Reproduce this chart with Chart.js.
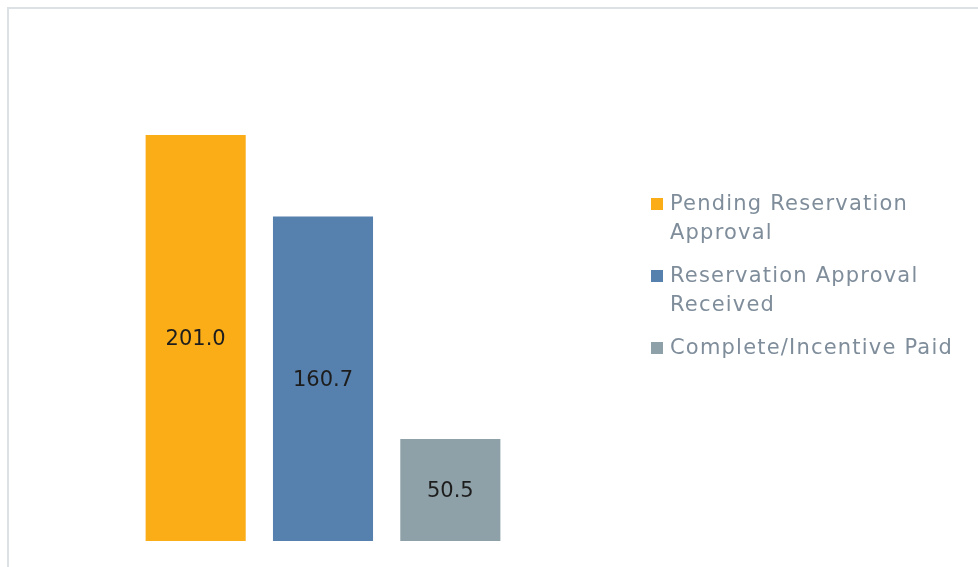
<!DOCTYPE html>
<html>
<head>
<meta charset="utf-8">
<script src="https://cdn.jsdelivr.net/npm/chart.js@4.4.1/dist/chart.umd.min.js"></script>
<style>
    html, body { margin: 0; padding: 0; background: #fff; }
    #wrap { position: relative; width: 978px; height: 567px; overflow: hidden; }
    #frame { position: absolute; left: 7px; top: 7px; width: 1000px; height: 600px;
             border-top: 2px solid #dce1e6; border-left: 2px solid #dce1e6; }
    #chart { position: absolute; left: 0; top: 0; }
    #legend { position: absolute; left: 651px; top: 189px; font-family: "DejaVu Sans", sans-serif;
              font-size: 21px; letter-spacing: 1.2px; color: #7f8d9b; line-height: 29px; }
    .item { display: flex; margin-bottom: 14px; white-space: nowrap; }
    .box { width: 12px; height: 12px; margin-top: 8.5px; margin-right: 7px; flex: none; }
</style>
</head>
<body>
<div id="wrap">
    <div id="frame"></div>
    <canvas id="chart" width="978" height="567"></canvas>
    <div id="legend"></div>
</div>
<script>
// --- Dữ liệu biểu đồ ---
const seriesNames = ['Pending Reservation Approval', 'Reservation Approval Received', 'Complete/Incentive Paid'];
const legendLines = [['Pending Reservation', 'Approval'], ['Reservation Approval', 'Received'], ['Complete/Incentive Paid']];
const seriesValues = [201.0, 160.7, 50.5];
const seriesColors = ['#fbad18', '#5680ad', '#8ea0a8'];
const yMax = 250;

// Nhãn giá trị ở giữa cột
const centerLabels = {
    id: 'centerLabels',
    afterDatasetsDraw(chart) {
        const ctx = chart.ctx;
        ctx.save();
        ctx.font = '21px "DejaVu Sans", sans-serif';
        ctx.fillStyle = '#1d1d1d';
        ctx.textAlign = 'center';
        ctx.textBaseline = 'middle';
        chart.data.datasets.forEach((ds, i) => {
            const bar = chart.getDatasetMeta(i).data[0];
            ctx.fillText(ds.data[0].toFixed(1), bar.x, (bar.y + bar.base) / 2 + 1.5);
        });
        ctx.restore();
    }
};

new Chart(document.getElementById('chart'), {
    type: 'bar',
    data: {
        labels: [''],
        datasets: seriesNames.map((name, i) => ({
            label: name,
            data: [seriesValues[i]],
            backgroundColor: seriesColors[i],
            borderWidth: 0,
            categoryPercentage: 1,
            barPercentage: 0.786
        }))
    },
    options: {
        responsive: false,
        animation: false,
        layout: { padding: { top: 36, bottom: 26, left: 132, right: 464 } },
        plugins: { legend: { display: false }, tooltip: { enabled: false } },
        scales: {
            x: { display: false },
            y: { display: false, min: 0, max: yMax }
        }
    },
    plugins: [centerLabels]
});

// Chú thích
const legendEl = document.getElementById('legend');
legendLines.forEach((lines, i) => {
    const item = document.createElement('div');
    item.className = 'item';
    item.innerHTML = `<span class="box" style="background:${seriesColors[i]}"></span><span>${lines.join('<br>')}</span>`;
    legendEl.appendChild(item);
});
</script>
</body>
</html>
